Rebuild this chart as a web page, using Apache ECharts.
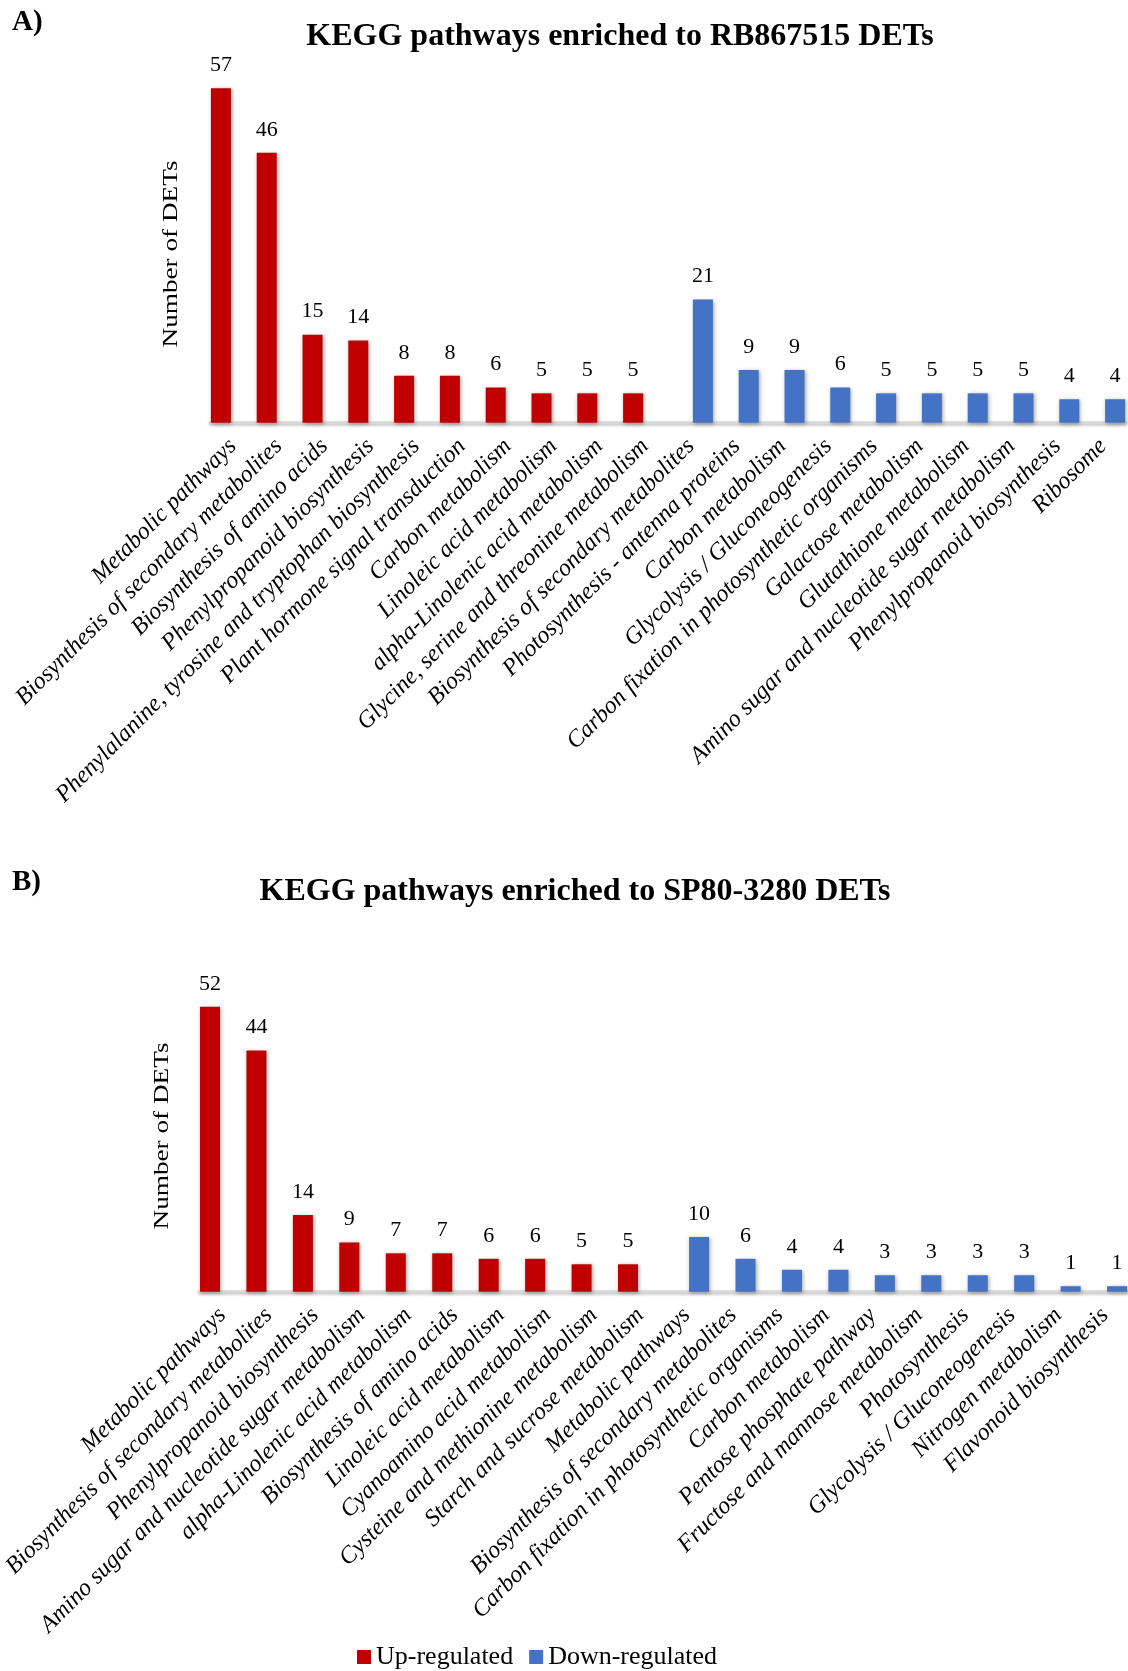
<!DOCTYPE html>
<html>
<head>
<meta charset="utf-8">
<script src="https://cdn.jsdelivr.net/npm/echarts@6/dist/echarts.min.js"></script>
<style>
  html, body { margin: 0; padding: 0; background: #ffffff; }
  #chart { width: 1128px; height: 1671px; }
</style>
</head>
<body>
<div id="chart"></div>
<script>
// Panel A: RB867515
const titleA = 'KEGG pathways enriched to RB867515 DETs';
const upCategoriesA = [
  'Metabolic pathways',
  'Biosynthesis of secondary metabolites',
  'Biosynthesis of amino acids',
  'Phenylpropanoid biosynthesis',
  'Phenylalanine, tyrosine and tryptophan biosynthesis',
  'Plant hormone signal transduction',
  'Carbon metabolism',
  'Linoleic acid metabolism',
  'alpha-Linolenic acid metabolism',
  'Glycine, serine and threonine metabolism'
];
const downCategoriesA = [
  'Biosynthesis of secondary metabolites',
  'Photosynthesis - antenna proteins',
  'Carbon metabolism',
  'Glycolysis / Gluconeogenesis',
  'Carbon fixation in photosynthetic organisms',
  'Galactose metabolism',
  'Glutathione metabolism',
  'Amino sugar and nucleotide sugar metabolism',
  'Phenylpropanoid biosynthesis',
  'Ribosome'
];
const upValuesA = [57, 46, 15, 14, 8, 8, 6, 5, 5, 5];
const downValuesA = [21, 9, 9, 6, 5, 5, 5, 5, 4, 4];

// Panel B: SP80-3280
const titleB = 'KEGG pathways enriched to SP80-3280 DETs';
const upCategoriesB = [
  'Metabolic pathways',
  'Biosynthesis of secondary metabolites',
  'Phenylpropanoid biosynthesis',
  'Amino sugar and nucleotide sugar metabolism',
  'alpha-Linolenic acid metabolism',
  'Biosynthesis of amino acids',
  'Linoleic acid metabolism',
  'Cyanoamino acid metabolism',
  'Cysteine and methionine metabolism',
  'Starch and sucrose metabolism'
];
const downCategoriesB = [
  'Metabolic pathways',
  'Biosynthesis of secondary metabolites',
  'Carbon fixation in photosynthetic organisms',
  'Carbon metabolism',
  'Pentose phosphate pathway',
  'Fructose and mannose metabolism',
  'Photosynthesis',
  'Glycolysis / Gluconeogenesis',
  'Nitrogen metabolism',
  'Flavonoid biosynthesis'
];
const upValuesB = [52, 44, 14, 9, 7, 7, 6, 6, 5, 5];
const downValuesB = [10, 6, 4, 4, 3, 3, 3, 3, 1, 1];

const seriesNames = ['Up-regulated', 'Down-regulated'];
const yAxisName = 'Number of DETs';

const UP_COLOR = '#C00000';
const DOWN_COLOR = '#4472C4';
const SERIF = "'Liberation Serif', 'Times New Roman', serif";

// Up-regulated values fill the first block of categories, down-regulated the second.
function padUp(up, down) { return up.concat(down.map(() => '-')); }
function padDown(up, down) { return up.map(() => '-').concat(down); }

const barStyle = (color) => ({
  color: color,
  shadowColor: 'rgba(0,0,0,0.35)',
  shadowBlur: 4,
  shadowOffsetX: 1,
  shadowOffsetY: 1
});

const valueLabel = {
  show: true,
  position: 'top',
  distance: 12,
  color: '#000',
  fontFamily: SERIF,
  fontSize: 22
};

function xAxisFor(gridIndex, cats) {
  return {
    type: 'category',
    gridIndex: gridIndex,
    data: cats,
    axisTick: { show: false },
    axisLine: {
      show: true,
      lineStyle: {
        color: '#d9d9d9',
        width: 2.5,
        shadowColor: 'rgba(0,0,0,0.3)',
        shadowBlur: 3,
        shadowOffsetY: 1.5
      }
    },
    axisLabel: {
      interval: 0,
      rotate: 45,
      margin: 20,
      color: '#000',
      fontFamily: SERIF,
      fontStyle: 'italic',
      fontSize: 24
    },
    splitLine: { show: false }
  };
}

function yAxisFor(gridIndex) {
  return {
    type: 'value',
    gridIndex: gridIndex,
    min: 0,
    max: 60,
    show: false,
    splitLine: { show: false }
  };
}

const option = {
  backgroundColor: '#ffffff',
  animation: false,
  title: [
    {
      text: titleA, left: 620, top: 21, textAlign: 'center', padding: 0,
      textStyle: { fontFamily: SERIF, fontWeight: 'bold', fontSize: 32, color: '#000' }
    },
    {
      text: titleB, left: 575, top: 876, textAlign: 'center', padding: 0,
      textStyle: { fontFamily: SERIF, fontWeight: 'bold', fontSize: 32, color: '#000' }
    }
  ],
  legend: {
    data: seriesNames,
    left: 357,
    top: 1644,
    padding: 0,
    icon: 'rect',
    itemWidth: 14,
    itemHeight: 14,
    itemGap: 16,
    selectedMode: false,
    textStyle: { fontFamily: SERIF, fontSize: 26, color: '#000' }
  },
  grid: [
    { left: 210, right: 2, top: 70.7, height: 352 },
    { left: 195, right: -7, top: 962.9, height: 328.8 }
  ],
  xAxis: [
    xAxisFor(0, upCategoriesA.concat(downCategoriesA)),
    xAxisFor(1, upCategoriesB.concat(downCategoriesB))
  ],
  yAxis: [yAxisFor(0), yAxisFor(1)],
  series: [
    {
      name: seriesNames[0], type: 'bar', xAxisIndex: 0, yAxisIndex: 0,
      barWidth: 20, barGap: '20%',
      data: padUp(upValuesA, downValuesA),
      itemStyle: barStyle(UP_COLOR), label: valueLabel
    },
    {
      name: seriesNames[1], type: 'bar', xAxisIndex: 0, yAxisIndex: 0,
      barWidth: 20, barGap: '20%',
      data: padDown(upValuesA, downValuesA),
      itemStyle: barStyle(DOWN_COLOR), label: valueLabel
    },
    {
      name: seriesNames[0], type: 'bar', xAxisIndex: 1, yAxisIndex: 1,
      barWidth: 20, barGap: '23%',
      data: padUp(upValuesB, downValuesB),
      itemStyle: barStyle(UP_COLOR), label: valueLabel
    },
    {
      name: seriesNames[1], type: 'bar', xAxisIndex: 1, yAxisIndex: 1,
      barWidth: 20, barGap: '23%',
      data: padDown(upValuesB, downValuesB),
      itemStyle: barStyle(DOWN_COLOR), label: valueLabel
    }
  ],
  graphic: [
    // panel letters
    {
      type: 'text', left: 12, top: 8,
      style: { text: 'A)', fontFamily: SERIF, fontWeight: 'bold', fontSize: 29, fill: '#000' }
    },
    {
      type: 'text', left: 12, top: 868,
      style: { text: 'B)', fontFamily: SERIF, fontWeight: 'bold', fontSize: 29, fill: '#000' }
    },
    // y-axis titles, stretched along their length
    {
      type: 'text', x: 172, y: 254, rotation: Math.PI / 2, scaleX: 1.36,
      style: {
        text: yAxisName, fontFamily: SERIF, fontSize: 20, fill: '#000',
        align: 'center', verticalAlign: 'middle'
      }
    },
    {
      type: 'text', x: 163, y: 1136, rotation: Math.PI / 2, scaleX: 1.36,
      style: {
        text: yAxisName, fontFamily: SERIF, fontSize: 20, fill: '#000',
        align: 'center', verticalAlign: 'middle'
      }
    }
  ]
};

const chart = echarts.init(document.getElementById('chart'), null, { renderer: 'canvas' });
chart.setOption(option);
</script>
</body>
</html>
